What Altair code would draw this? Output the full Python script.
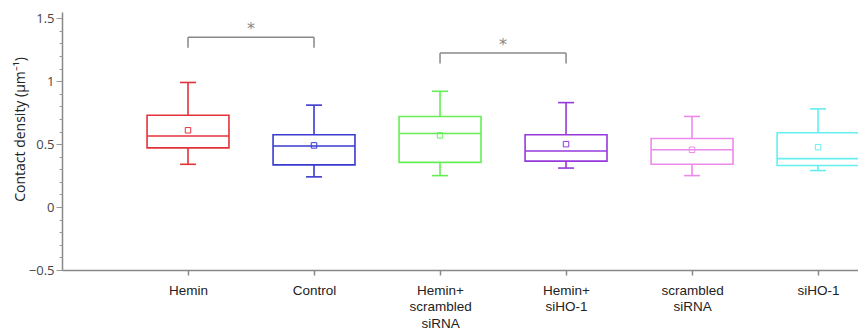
import altair as alt
import pandas as pd

groups = ["Hemin", "Control", "Hemin+ scrambled siRNA", "Hemin+ siHO-1", "scrambled siRNA", "siHO-1"]
idx = [0, 1, 2, 3, 4, 5]
colors = ["#e3333a", "#3a3ad0", "#66ee55", "#9638dc", "#ec8aec", "#66eef0"]
wmax = [0.99, 0.81, 0.92, 0.83, 0.72, 0.78]
q3 = [0.73, 0.575, 0.72, 0.575, 0.545, 0.59]
med = [0.565, 0.485, 0.585, 0.445, 0.455, 0.385]
q1 = [0.47, 0.335, 0.355, 0.365, 0.34, 0.33]
wmin = [0.34, 0.24, 0.25, 0.31, 0.25, 0.29]
mean = [0.61, 0.49, 0.57, 0.50, 0.455, 0.476]

y_major = [-0.5, 0, 0.5, 1, 1.5]
y_minor = [-0.4, -0.3, -0.2, -0.1, 0.1, 0.2, 0.3, 0.4, 0.6, 0.7, 0.8, 0.9,
           1.1, 1.2, 1.3, 1.4]

# significance brackets
br_x1 = [0, 2]
br_x2 = [1, 3]
br_y = [1.35, 1.225]
br_leg = [1.265, 1.14]
star_y = [1.415, 1.29]

df = pd.DataFrame(dict(g=groups, i=idx, wmax=wmax, q3=q3, med=med, q1=q1, wmin=wmin, mean=mean))
br = pd.DataFrame(dict(x1=br_x1, x2=br_x2, y=br_y, leg=br_leg, sy=star_y))

label_expr = (
    "datum.value == 0 ? 'Hemin' : datum.value == 1 ? 'Control' : "
    "datum.value == 2 ? ['Hemin+', 'scrambled', 'siRNA'] : "
    "datum.value == 3 ? ['Hemin+', 'siHO-1'] : "
    "datum.value == 4 ? ['scrambled', 'siRNA'] : datum.value == 5 ? 'siHO-1' : ''"
)

xscale = alt.Scale(domain=[-1, 5.317], nice=False, zero=False)
yscale = alt.Scale(domain=[-0.5, 1.55], nice=False, zero=False)

xaxis = alt.Axis(values=idx, labelExpr=label_expr, title=None, grid=False,
                 domainColor="#888", domainWidth=1.5, tickColor="#888", tickWidth=1.5, tickSize=5,
                 labelFont="Liberation Sans", labelFontSize=13.5, labelColor="#222",
                 labelPadding=8, labelLineHeight=16.5, labelBaseline="top", labelOverlap=False)
yaxis = alt.Axis(values=y_major, format="~g", title="Contact density (μm⁻¹)", grid=False, labelOverlap=False,
                 tickSize=6, domainColor="#888", domainWidth=1.5, tickColor="#999", tickWidth=1,
                 labelFont="Open Sans", labelFontSize=13, labelColor="#444", labelPadding=2,
                 titleFont="Open Sans", titleFontSize=14, titleFontWeight="normal", titleColor="#222",
                 titleX=-38, titleY=117, titleBaseline="alphabetic", titleAngle=270)
yminor = alt.Axis(values=y_minor, orient="left", labels=False, title=None, domain=False, grid=False,
                  tickSize=3, tickColor="#999", tickWidth=1)

cscale = alt.Scale(domain=groups, range=colors)
col = alt.Color("g:N", scale=cscale, legend=None)
base = alt.Chart(df).transform_calculate(
    lo="datum.i - 0.325", hi="datum.i + 0.325",
    clo="datum.i - 0.0635", chi="datum.i + 0.0635",
)
X = lambda f: alt.X(f, scale=xscale, axis=None)
Y = lambda f: alt.Y(f, scale=yscale, axis=None)
SW = 1.6

boxes = base.mark_rect(fill=None, strokeWidth=SW, opacity=1).encode(
    x=alt.X("lo:Q", scale=xscale, axis=xaxis), x2="hi:Q",
    y=alt.Y("q1:Q", scale=yscale, axis=yaxis), y2="q3:Q",
    stroke=alt.Stroke("g:N", scale=cscale, legend=None),
)
upper = base.mark_rule(strokeWidth=SW).encode(x=X("i:Q"), y=Y("q3:Q"), y2="wmax:Q", color=col)
lower = base.mark_rule(strokeWidth=SW).encode(x=X("i:Q"), y=Y("wmin:Q"), y2="q1:Q", color=col)
capt = base.mark_rule(strokeWidth=SW).encode(x=X("clo:Q"), x2="chi:Q", y=Y("wmax:Q"), color=col)
capb = base.mark_rule(strokeWidth=SW).encode(x=X("clo:Q"), x2="chi:Q", y=Y("wmin:Q"), color=col)
medt = base.mark_rule(strokeWidth=SW).encode(x=X("lo:Q"), x2="hi:Q", y=Y("med:Q"), color=col)
meanp = base.mark_point(shape="square", size=30, filled=False, strokeWidth=1, opacity=1).encode(
    x=X("i:Q"), y=alt.Y("mean:Q", scale=yscale, axis=yminor), color=col)

bb = alt.Chart(br)
hline = bb.mark_rule(color="#888", strokeWidth=1.5).encode(x=X("x1:Q"), x2="x2:Q", y=Y("y:Q"))
leg1 = bb.mark_rule(color="#888", strokeWidth=1.5).encode(x=X("x1:Q"), y=Y("leg:Q"), y2="y:Q")
leg2 = bb.mark_rule(color="#888", strokeWidth=1.5).encode(x=X("x2:Q"), y=Y("leg:Q"), y2="y:Q")
stars = bb.mark_text(text="*", color="#888", fontSize=16, font="DejaVu Sans", baseline="middle").transform_calculate(
    mx="(datum.x1 + datum.x2) / 2"
).encode(x=X("mx:Q"), y=Y("sy:Q"))

chart = alt.layer(boxes, meanp, upper, lower, capt, capb, medt, hline, leg1, leg2, stars).resolve_axis(
    x="independent", y="independent"
).properties(
    width=796, height=258,
    autosize=alt.AutoSizeParams(type="none"),
    padding={"left": 54, "top": 4, "right": 0, "bottom": 61},
).configure_view(stroke=None)

chart.save("out.html", embed_options={"renderer": "svg", "actions": False})
